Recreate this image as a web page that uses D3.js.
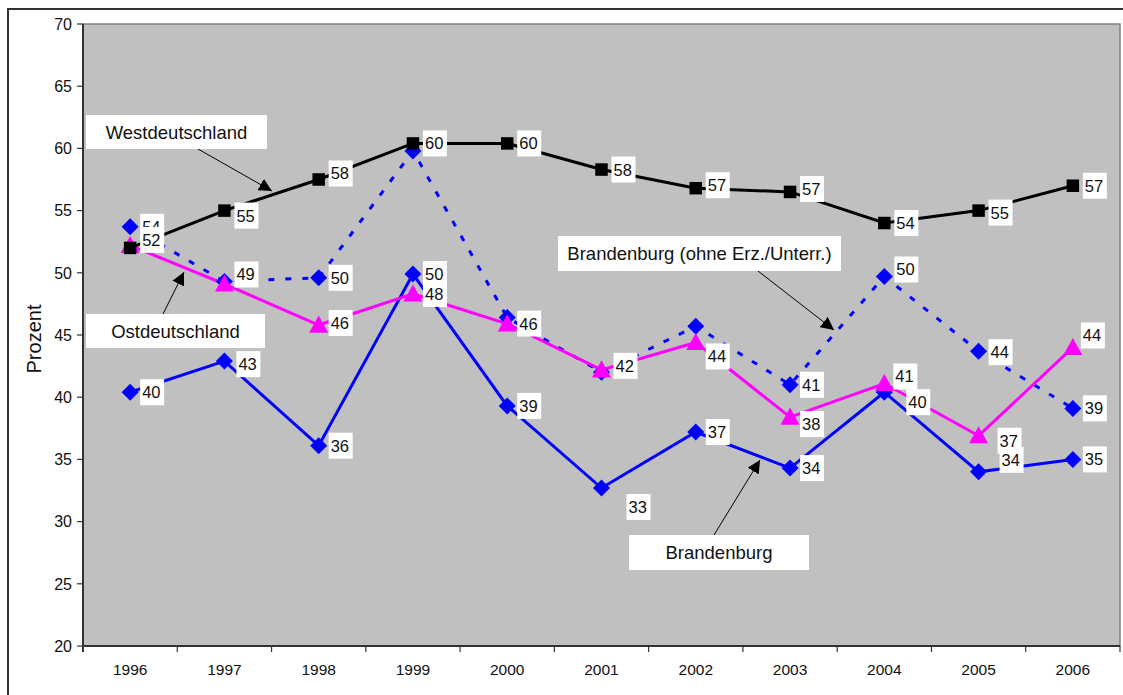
<!DOCTYPE html>
<html>
<head>
<meta charset="utf-8">
<script src="https://cdn.jsdelivr.net/npm/d3@7"></script>
<style>
  body { margin: 0; background: #fff; }
  svg { display: block; font-family: "Liberation Sans", Arial, sans-serif; }
</style>
</head>
<body>
<svg id="chart"></svg>
<script>
var years = ["1996", "1997", "1998", "1999", "2000", "2001", "2002", "2003", "2004", "2005", "2006"];
var yTicks = [20, 25, 30, 35, 40, 45, 50, 55, 60, 65, 70];

// values
var brandenburg = [40.4, 42.9, 36.1, 49.9, 39.3, 32.7, 37.2, 34.3, 40.4, 34.0, 35.0];
var brandenburgOhne = [53.7, 49.3, 49.6, 59.8, 46.4, 42.0, 45.7, 41.0, 49.7, 43.7, 39.1];
var ostdeutschland = [52.2, 49.1, 45.8, 48.3, 45.9, 42.2, 44.4, 38.4, 41.1, 36.9, 44.0];
var westdeutschland = [52.0, 55.0, 57.5, 60.4, 60.4, 58.3, 56.8, 56.5, 54.0, 55.0, 57.0];

// which points carry a visible data label
var brandenburgShown = years;
var ohneShown = ["1996", "1997", "1998", "2000", "2003", "2004", "2005", "2006"];
var ostShown = ["1998", "1999", "2001", "2002", "2003", "2004", "2005", "2006"];
var westShown = years;

var width = 1123, height = 695;
var svg = d3.select("#chart").attr("width", width).attr("height", height);

var plot = {left: 83, right: 1120, top: 24, bottom: 646};

var x = d3.scaleBand().domain(years).range([plot.left, plot.right]);
var y = d3.scaleLinear().domain([20, 70]).range([plot.bottom, plot.top]);
var cx = function (d, i) { return x(years[i]) + x.bandwidth() / 2; };

// chart area border
svg.append("rect")
  .attr("x", 8).attr("y", 9)
  .attr("width", width + 20).attr("height", height + 20)
  .attr("fill", "none").attr("stroke", "#333").attr("stroke-width", 2);

// plot area
svg.append("rect")
  .attr("x", plot.left).attr("y", plot.top)
  .attr("width", plot.right - plot.left).attr("height", plot.bottom - plot.top)
  .attr("fill", "#c0c0c0").attr("stroke", "#808080").attr("stroke-width", 1.5);

// y axis
var yAxis = svg.append("g");
yAxis.append("line")
  .attr("x1", plot.left).attr("x2", plot.left)
  .attr("y1", plot.top).attr("y2", plot.bottom + 6)
  .attr("stroke", "#333").attr("stroke-width", 2);
yAxis.selectAll(".tick").data(yTicks).enter().append("line")
  .attr("x1", plot.left - 6).attr("x2", plot.left)
  .attr("y1", y).attr("y2", y)
  .attr("stroke", "#333").attr("stroke-width", 1.2);
yAxis.selectAll("text").data(yTicks).enter().append("text")
  .attr("x", plot.left - 11)
  .attr("y", y)
  .attr("dy", "0.36em")
  .attr("text-anchor", "end")
  .attr("font-size", 16)
  .attr("fill", "#111")
  .text(function (d) { return d; });

svg.append("text")
  .attr("transform", "translate(41," + ((plot.top + plot.bottom) / 2 + 4) + ") rotate(-90)")
  .attr("text-anchor", "middle")
  .attr("font-size", 20)
  .attr("fill", "#111")
  .text("Prozent");

// x axis
var xAxis = svg.append("g");
xAxis.append("line")
  .attr("x1", plot.left).attr("x2", plot.right)
  .attr("y1", plot.bottom).attr("y2", plot.bottom)
  .attr("stroke", "#333").attr("stroke-width", 2);
xAxis.selectAll(".tick").data(years.concat(["end"])).enter().append("line")
  .attr("x1", function (d, i) { return plot.left + i * x.bandwidth(); })
  .attr("x2", function (d, i) { return plot.left + i * x.bandwidth(); })
  .attr("y1", plot.bottom).attr("y2", plot.bottom + 6)
  .attr("stroke", "#333").attr("stroke-width", 1.2);
xAxis.selectAll("text").data(years).enter().append("text")
  .attr("x", function (d) { return x(d) + x.bandwidth() / 2; })
  .attr("y", plot.bottom + 23)
  .attr("dy", "0.36em")
  .attr("text-anchor", "middle")
  .attr("font-size", 15.5)
  .attr("fill", "#111")
  .text(function (d) { return d; });

// lines
var line = d3.line().x(cx).y(function (d) { return y(d); });

function drawSeries(values, color, dash, width) {
  svg.append("path")
    .datum(values)
    .attr("d", line)
    .attr("fill", "none")
    .attr("stroke", color)
    .attr("stroke-width", width)
    .attr("stroke-dasharray", dash);
}

function drawMarkers(values, color, symbol, size) {
  svg.append("g").selectAll("path").data(values).enter().append("path")
    .attr("transform", function (d, i) { return "translate(" + cx(d, i) + "," + y(d) + ")"; })
    .attr("d", d3.symbol().type(symbol).size(size))
    .attr("fill", color);
}

var diamond = {
  draw: function (ctx, size) {
    var r = Math.sqrt(size) / 2;
    ctx.moveTo(0, -r);
    ctx.lineTo(r, 0);
    ctx.lineTo(0, r);
    ctx.lineTo(-r, 0);
    ctx.closePath();
  }
};
var triangle = {
  draw: function (ctx, size) {
    var r = Math.sqrt(size) / 2;
    ctx.moveTo(0, -r);
    ctx.lineTo(r, r * 0.8);
    ctx.lineTo(-r, r * 0.8);
    ctx.closePath();
  }
};

drawSeries(brandenburg, "#0000ff", null, 3);
drawSeries(brandenburgOhne, "#0000ff", "6,11", 3);
drawSeries(ostdeutschland, "#ff00ff", null, 3);
drawSeries(westdeutschland, "#000", null, 3);

drawMarkers(brandenburg, "#0000ff", diamond, 17 * 17);
drawMarkers(brandenburgOhne, "#0000ff", diamond, 17 * 17);
drawMarkers(ostdeutschland, "#ff00ff", triangle, 19 * 19);
drawMarkers(westdeutschland, "#000", d3.symbolSquare, 12.5 * 12.5);

// data labels: nudges [dx, dy] relative to default spot at the right of a point
var nudge = {
  ohne: {"1996": [0, 0], "1997": [0, -7], "2000": [0, 6], "2004": [0, -7], "2005": [0, 1]},
  bb: {"1997": [2, 3], "2001": [15, 19], "2004": [12, 10], "2005": [11, -12]},
  ost: {"1998": [0, -2], "2001": [2, -4], "2002": [0, 14], "2003": [0, 7], "2004": [-1, -7], "2005": [9, 5], "2006": [-2, -12]},
  west: {"1996": [0, -8], "1997": [0, 5], "1998": [0, -6], "2002": [0, -3], "2003": [0, -3], "2005": [0, 2]}
};

function drawLabels(values, shown, key) {
  var pts = [];
  values.forEach(function (v, i) {
    if (shown.indexOf(years[i]) > -1) pts.push({v: v, i: i, year: years[i]});
  });
  var g = svg.append("g").selectAll("g").data(pts).enter().append("g")
    .attr("transform", function (d) {
      var n = nudge[key][d.year] || [0, 0];
      return "translate(" + (cx(d.v, d.i) + 10 + n[0]) + "," + (y(d.v) + n[1]) + ")";
    });
  g.append("rect")
    .attr("x", 0).attr("y", -13)
    .attr("width", 24).attr("height", 26)
    .attr("fill", "#fff");
  g.append("text")
    .attr("x", 2)
    .attr("dy", "0.36em")
    .attr("font-size", 16.5)
    .attr("fill", "#111")
    .text(function (d) { return Math.round(d.v); });
}

drawLabels(brandenburgOhne, ohneShown, "ohne");
drawLabels(brandenburg, brandenburgShown, "bb");
drawLabels(ostdeutschland, ostShown, "ost");
drawLabels(westdeutschland, westShown, "west");

// annotation boxes with arrows
var notes = [
  {text: "Westdeutschland", box: [86, 115, 181, 34], from: [198, 149], to: [272, 191]},
  {text: "Ostdeutschland", box: [86, 314, 179, 34], from: [163, 314], to: [184, 272]},
  {text: "Brandenburg (ohne Erz./Unterr.)", box: [558, 236, 283, 35], from: [758, 271], to: [834, 330]},
  {text: "Brandenburg", box: [629, 535, 180, 35], from: [714, 535], to: [760, 460]}
];

svg.append("defs").append("marker")
  .attr("id", "head")
  .attr("viewBox", "0 0 10 10")
  .attr("refX", 10).attr("refY", 5)
  .attr("markerWidth", 13).attr("markerHeight", 13)
  .attr("markerUnits", "userSpaceOnUse")
  .attr("orient", "auto")
  .append("path")
  .attr("d", "M0,0 L10,5 L0,10 z")
  .attr("fill", "#000");

var note = svg.append("g").selectAll("g").data(notes).enter().append("g");
note.append("line")
  .attr("x1", function (d) { return d.from[0]; })
  .attr("y1", function (d) { return d.from[1]; })
  .attr("x2", function (d) { return d.to[0]; })
  .attr("y2", function (d) { return d.to[1]; })
  .attr("stroke", "#000").attr("stroke-width", 1)
  .attr("marker-end", "url(#head)");
note.append("rect")
  .attr("x", function (d) { return d.box[0]; })
  .attr("y", function (d) { return d.box[1]; })
  .attr("width", function (d) { return d.box[2]; })
  .attr("height", function (d) { return d.box[3]; })
  .attr("fill", "#fff");
note.append("text")
  .attr("x", function (d) { return d.box[0] + d.box[2] / 2; })
  .attr("y", function (d) { return d.box[1] + d.box[3] / 2; })
  .attr("dy", "0.36em")
  .attr("text-anchor", "middle")
  .attr("font-size", 18.5)
  .attr("fill", "#111")
  .text(function (d) { return d.text; });
</script>
</body>
</html>
